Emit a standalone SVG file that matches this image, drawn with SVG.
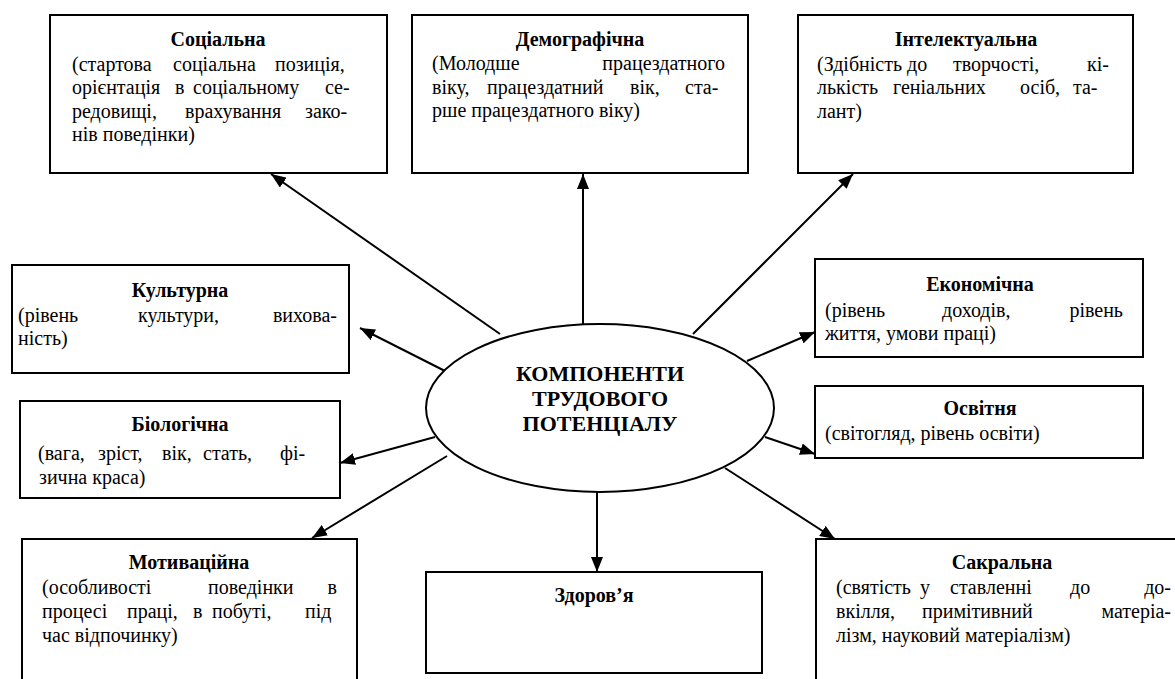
<svg xmlns="http://www.w3.org/2000/svg" width="1175" height="679" viewBox="0 0 1175 679">
<defs>
<marker id="arrowhead" markerUnits="userSpaceOnUse" markerWidth="16" markerHeight="12" refX="15" refY="6" orient="auto">
<path d="M0,0 L15,6 L0,12 z" fill="#000"/>
</marker>
</defs>
<rect x="0" y="0" width="1175" height="679" fill="#ffffff"/>

<g id="connectors" stroke="#000" stroke-width="2" fill="none" marker-end="url(#arrowhead)">
<line x1="500" y1="334" x2="271" y2="174"/>
<line x1="583" y1="324" x2="583" y2="174"/>
<line x1="693" y1="334" x2="853" y2="174"/>
<line x1="445" y1="371" x2="360" y2="328"/>
<line x1="747" y1="361" x2="815" y2="332"/>
<line x1="765" y1="437" x2="815" y2="454"/>
<line x1="435" y1="437" x2="340" y2="463"/>
<line x1="447" y1="456" x2="312" y2="538"/>
<line x1="597" y1="492" x2="597" y2="572"/>
<line x1="725" y1="468" x2="835" y2="539"/>
</g>

<g id="center">
<ellipse cx="600" cy="408" rx="174" ry="84" fill="#fff" stroke="#000" stroke-width="2"/>
<text font-family="Liberation Serif, Times New Roman, serif" font-size="22" font-weight="bold" text-anchor="middle" x="600" y="381">КОМПОНЕНТИ</text>
<text font-family="Liberation Serif, Times New Roman, serif" font-size="22" font-weight="bold" text-anchor="middle" x="600" y="406">ТРУДОВОГО</text>
<text font-family="Liberation Serif, Times New Roman, serif" font-size="22" font-weight="bold" text-anchor="middle" x="600" y="431">ПОТЕНЦІАЛУ</text>
</g>

<g id="social">
<rect x="50" y="15" width="337" height="158" fill="#fff" stroke="#000" stroke-width="2"/>
<text font-family="Liberation Serif, Times New Roman, serif" font-size="20" font-weight="bold" text-anchor="middle" x="218" y="46">Соціальна</text>
<text font-family="Liberation Serif, Times New Roman, serif" font-size="20" y="71"><tspan x="72">(стартова</tspan><tspan x="173">соціальна</tspan><tspan x="275">позиція,</tspan></text>
<text font-family="Liberation Serif, Times New Roman, serif" font-size="20" y="94"><tspan x="72">орієнтація</tspan><tspan x="175">в</tspan><tspan x="193">соціальному</tspan><tspan x="325">се-</tspan></text>
<text font-family="Liberation Serif, Times New Roman, serif" font-size="20" y="118"><tspan x="72">редовищі,</tspan><tspan x="185">врахування</tspan><tspan x="305">зако-</tspan></text>
<text font-family="Liberation Serif, Times New Roman, serif" font-size="20" x="72" y="141">нів поведінки)</text>
</g>

<g id="demographic">
<rect x="412" y="15" width="336" height="158" fill="#fff" stroke="#000" stroke-width="2"/>
<text font-family="Liberation Serif, Times New Roman, serif" font-size="20" font-weight="bold" text-anchor="middle" x="580" y="46">Демографічна</text>
<text font-family="Liberation Serif, Times New Roman, serif" font-size="20" x="432" y="70">(Молодше</text>
<text font-family="Liberation Serif, Times New Roman, serif" font-size="20" text-anchor="end" x="725" y="70">працездатного</text>
<text font-family="Liberation Serif, Times New Roman, serif" font-size="20" y="94"><tspan x="432">віку,</tspan><tspan x="487">працездатний</tspan><tspan x="630">вік,</tspan><tspan x="685">ста-</tspan></text>
<text font-family="Liberation Serif, Times New Roman, serif" font-size="20" x="432" y="117">рше працездатного віку)</text>
</g>

<g id="intellectual">
<rect x="798" y="15" width="335" height="158" fill="#fff" stroke="#000" stroke-width="2"/>
<text font-family="Liberation Serif, Times New Roman, serif" font-size="20" font-weight="bold" text-anchor="middle" x="966" y="46">Інтелектуальна</text>
<text font-family="Liberation Serif, Times New Roman, serif" font-size="20" y="71"><tspan x="817">(Здібність</tspan><tspan x="907">до</tspan><tspan x="953">творчості,</tspan><tspan x="1087">кі-</tspan></text>
<text font-family="Liberation Serif, Times New Roman, serif" font-size="20" y="94"><tspan x="817">лькість</tspan><tspan x="893">геніальних</tspan><tspan x="1020">осіб,</tspan><tspan x="1073">та-</tspan></text>
<text font-family="Liberation Serif, Times New Roman, serif" font-size="20" x="817" y="118">лант)</text>
</g>

<g id="cultural">
<rect x="12" y="265" width="337" height="108" fill="#fff" stroke="#000" stroke-width="2"/>
<text font-family="Liberation Serif, Times New Roman, serif" font-size="20" font-weight="bold" text-anchor="middle" x="180" y="297">Культурна</text>
<text font-family="Liberation Serif, Times New Roman, serif" font-size="20" y="322"><tspan x="18">(рівень</tspan><tspan x="138">культури,</tspan></text>
<text font-family="Liberation Serif, Times New Roman, serif" font-size="20" text-anchor="end" x="337" y="322">вихова-</text>
<text font-family="Liberation Serif, Times New Roman, serif" font-size="20" x="18" y="345">ність)</text>
</g>

<g id="biological">
<rect x="20" y="401" width="320" height="97" fill="#fff" stroke="#000" stroke-width="2"/>
<text font-family="Liberation Serif, Times New Roman, serif" font-size="20" font-weight="bold" text-anchor="middle" x="180" y="431">Біологічна</text>
<text font-family="Liberation Serif, Times New Roman, serif" font-size="20" y="460"><tspan x="38">(вага,</tspan><tspan x="98">зріст,</tspan><tspan x="162">вік,</tspan><tspan x="203">стать,</tspan><tspan x="280">фі-</tspan></text>
<text font-family="Liberation Serif, Times New Roman, serif" font-size="20" x="39" y="484">зична краса)</text>
</g>

<g id="motivational">
<rect x="22" y="539" width="335" height="150" fill="#fff" stroke="#000" stroke-width="2"/>
<text font-family="Liberation Serif, Times New Roman, serif" font-size="20" font-weight="bold" text-anchor="middle" x="189" y="569">Мотиваційна</text>
<text font-family="Liberation Serif, Times New Roman, serif" font-size="20" y="594"><tspan x="42">(особливості</tspan><tspan x="208">поведінки</tspan></text>
<text font-family="Liberation Serif, Times New Roman, serif" font-size="20" text-anchor="end" x="337" y="594">в</text>
<text font-family="Liberation Serif, Times New Roman, serif" font-size="20" y="618"><tspan x="42">процесі</tspan><tspan x="127">праці,</tspan><tspan x="193">в</tspan><tspan x="212">побуті,</tspan><tspan x="305">під</tspan></text>
<text font-family="Liberation Serif, Times New Roman, serif" font-size="20" x="42" y="642">час відпочинку)</text>
</g>

<g id="health">
<rect x="426" y="572" width="336" height="101" fill="#fff" stroke="#000" stroke-width="2"/>
<text font-family="Liberation Serif, Times New Roman, serif" font-size="20" font-weight="bold" text-anchor="middle" x="594" y="602">Здоров’я</text>
</g>

<g id="economic">
<rect x="815" y="259" width="328" height="98" fill="#fff" stroke="#000" stroke-width="2"/>
<text font-family="Liberation Serif, Times New Roman, serif" font-size="20" font-weight="bold" text-anchor="middle" x="980" y="291">Економічна</text>
<text font-family="Liberation Serif, Times New Roman, serif" font-size="20" y="317"><tspan x="825">(рівень</tspan><tspan x="942">доходів,</tspan></text>
<text font-family="Liberation Serif, Times New Roman, serif" font-size="20" text-anchor="end" x="1123" y="317">рівень</text>
<text font-family="Liberation Serif, Times New Roman, serif" font-size="20" x="825" y="340">життя, умови праці)</text>
</g>

<g id="educational">
<rect x="815" y="386" width="328" height="72" fill="#fff" stroke="#000" stroke-width="2"/>
<text font-family="Liberation Serif, Times New Roman, serif" font-size="20" font-weight="bold" text-anchor="middle" x="980" y="415">Освітня</text>
<text font-family="Liberation Serif, Times New Roman, serif" font-size="20" x="825" y="440">(світогляд, рівень освіти)</text>
</g>

<g id="sacral">
<rect x="816" y="539" width="380" height="150" fill="#fff" stroke="#000" stroke-width="2"/>
<text font-family="Liberation Serif, Times New Roman, serif" font-size="20" font-weight="bold" text-anchor="middle" x="1002" y="569">Сакральна</text>
<text font-family="Liberation Serif, Times New Roman, serif" font-size="20" y="594"><tspan x="836">(святість</tspan><tspan x="920">у</tspan><tspan x="950">ставленні</tspan><tspan x="1070">до</tspan></text>
<text font-family="Liberation Serif, Times New Roman, serif" font-size="20" text-anchor="end" x="1171" y="594">до-</text>
<text font-family="Liberation Serif, Times New Roman, serif" font-size="20" y="618"><tspan x="836">вкілля,</tspan><tspan x="922">примітивний</tspan></text>
<text font-family="Liberation Serif, Times New Roman, serif" font-size="20" text-anchor="end" x="1171" y="618">матеріа-</text>
<text font-family="Liberation Serif, Times New Roman, serif" font-size="20" x="836" y="642">лізм, науковий матеріалізм)</text>
</g>
</svg>
